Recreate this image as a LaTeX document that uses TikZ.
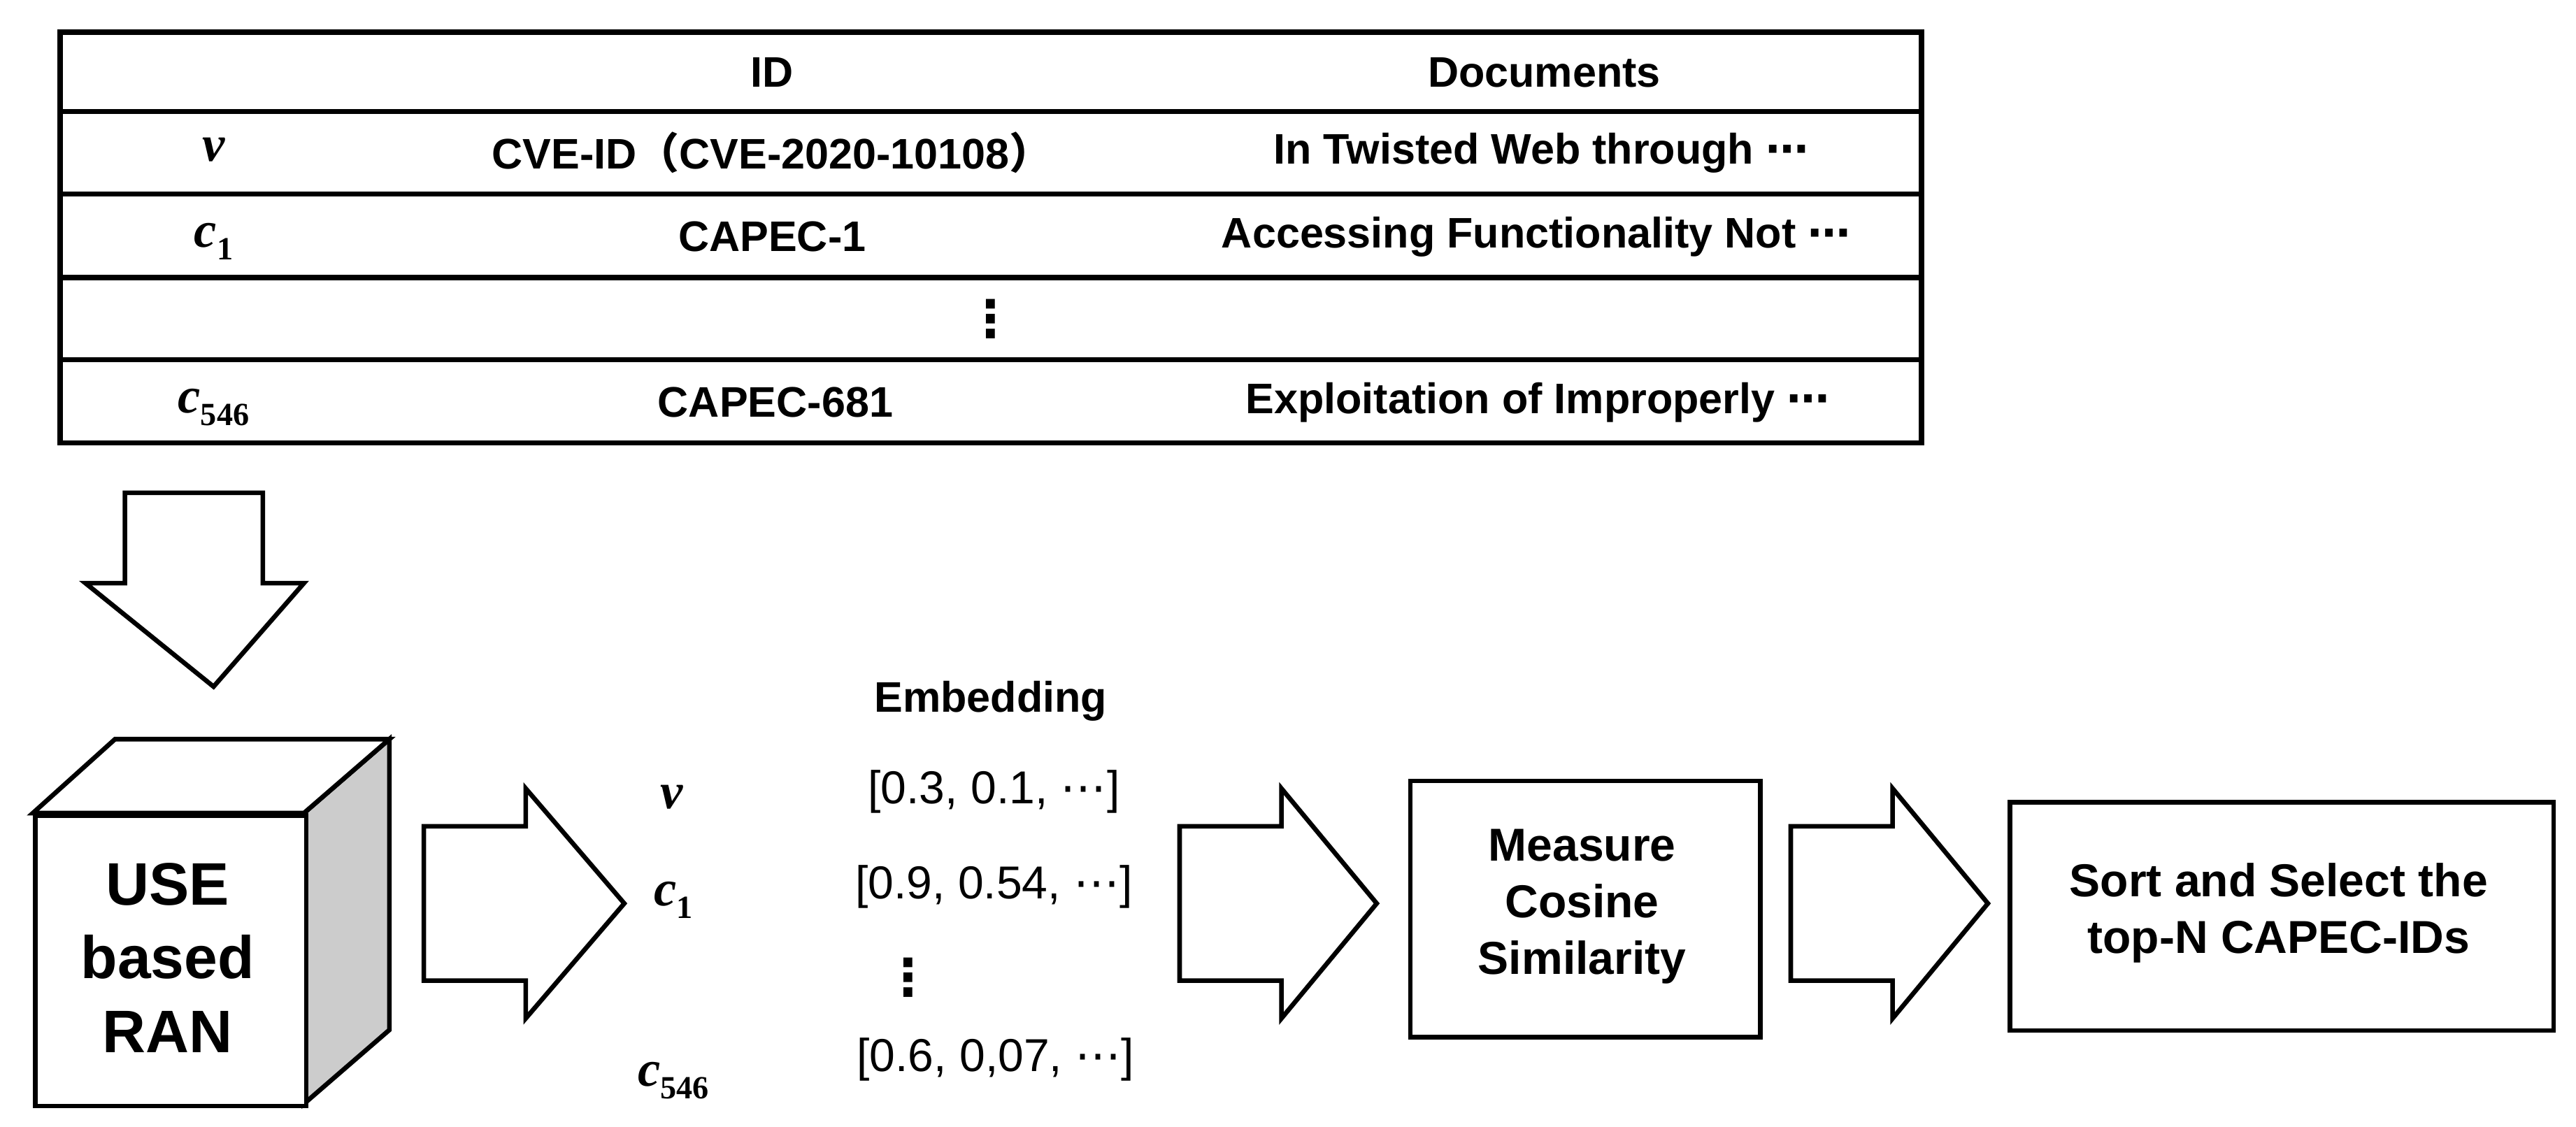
\documentclass[tikz,border=0pt]{standalone}
\usepackage{fontspec}
\setmainfont{Liberation Sans}
\newfontfamily\cjk{Noto Sans CJK JP}
\newfontfamily\serifb{Liberation Serif}
\newfontfamily\dv{DejaVu Sans}
\newcommand{\mydots}{{\dv\bfseries ⋯}}
\newcommand{\myvdots}{{\dv\bfseries ⋮}}
\newcommand{\mysym}[2]{{\serifb\bfseries\itshape #1}\raisebox{-0.25em}{\serifb\bfseries\fontsize{28}{30}\selectfont #2}}
\begin{document}
\begin{tikzpicture}[x=0.05cm,y=-0.05cm,
  ln/.style={line width=4.5pt},
  tx/.style={font=\fontsize{37}{44}\selectfont\bfseries, inner sep=0pt},
  vec/.style={font=\fontsize{40}{44}\selectfont, inner sep=0pt},
  big/.style={font=\fontsize{52}{64}\selectfont\bfseries, align=center, inner sep=0pt},
  mid/.style={font=\fontsize{40}{49}\selectfont\bfseries, align=center, inner sep=0pt},
  mth/.style={font=\fontsize{44}{46}\selectfont, inner sep=0pt},
  arr/.style={draw, line width=4pt, fill=white, line join=miter}]
\useasboundingbox (0,0) rectangle (1568,686);
% table
\node (tab) [ln, draw, minimum width=1133*0.05cm, minimum height=250*0.05cm, anchor=north west, inner sep=0pt] at (35,18) {};
\foreach \yy in {68,118,169,219} \draw[ln] (35,\yy) -- (1168,\yy);
\node (h1) [tx] at (470,44) {ID};
\node (h2) [tx] at (940,44) {Documents};
\node (r1a) [mth] at (130,95) {\mysym{ν}{}};
\node (r1b) [tx] at (470,93) {CVE-ID{\cjk\bfseries （}CVE-2020-10108{\cjk\bfseries ）}};
\node (r1c) [tx] at (938,93) {In Twisted Web through \mydots};
\node (r2a) [mth] at (130,147) {\mysym{c}{1}};
\node (r2b) [tx] at (470,144) {CAPEC-1};
\node (r2c) [tx] at (935,144) {Accessing Functionality Not \mydots};
\node (r3) [mth] at (603,194) {\myvdots};
\node (r4a) [mth] at (130,248) {\mysym{c}{546}};
\node (r4b) [tx] at (472,245) {CAPEC-681};
\node (r4c) [tx] at (936,245) {Exploitation of Improperly \mydots};
% down arrow
\draw[arr] (76,300) -- (160,300) -- (160,355) -- (185,355) -- (130,418) -- (52,355) -- (76,355) -- cycle;
% cube
\draw[arr, fill=gray!40] (185,495) -- (237,450) -- (237,627) -- (185,672) -- cycle;
\draw[arr] (20,495) -- (70,450) -- (237,450) -- (185,495) -- cycle;
\node (cube) [arr, minimum width=165*0.05cm, minimum height=177*0.05cm, anchor=north west, inner sep=0pt] at (20,495) {};
\node (cubet) [big] at (102,583) {USE\\based\\RAN};
% right arrows
\foreach \xa/\xb/\xt in {258/320/380, 718/780/838, 1090/1152/1210}
  \draw[arr] (\xa,503) -- (\xb,503) -- (\xb,480) -- (\xt,550) -- (\xb,620) -- (\xb,597) -- (\xa,597) -- cycle;
% embedding
\node (emb) [tx] at (603,427) {Embedding};
\node (ev) [mth] at (409,489) {\mysym{ν}{}};
\node (ec1) [mth] at (410,548) {\mysym{c}{1}};
\node (ec5) [mth] at (410,658) {\mysym{c}{546}};
\node (v1) [vec] at (605,482) {[0.3, 0.1, {\dv ⋯}]};
\node (v2) [vec] at (605,540) {[0.9, 0.54, {\dv ⋯}]};
\node (vd) [mth] at (553,595) {\myvdots};
\node (v3) [vec] at (606,645) {[0.6, 0,07, {\dv ⋯}]};
% boxes
\node (meas) [arr, minimum width=213*0.05cm, minimum height=156*0.05cm, anchor=north west] at (857,474) {};
\node (meast) [mid] at (963,552) {Measure\\Cosine\\Similarity};
\node (sort) [arr, minimum width=331*0.05cm, minimum height=139*0.05cm, anchor=north west] at (1222,487) {};
\node (sortt) [mid] at (1387,556) {Sort and Select the\\top-N CAPEC-IDs};
\end{tikzpicture}
\end{document}
